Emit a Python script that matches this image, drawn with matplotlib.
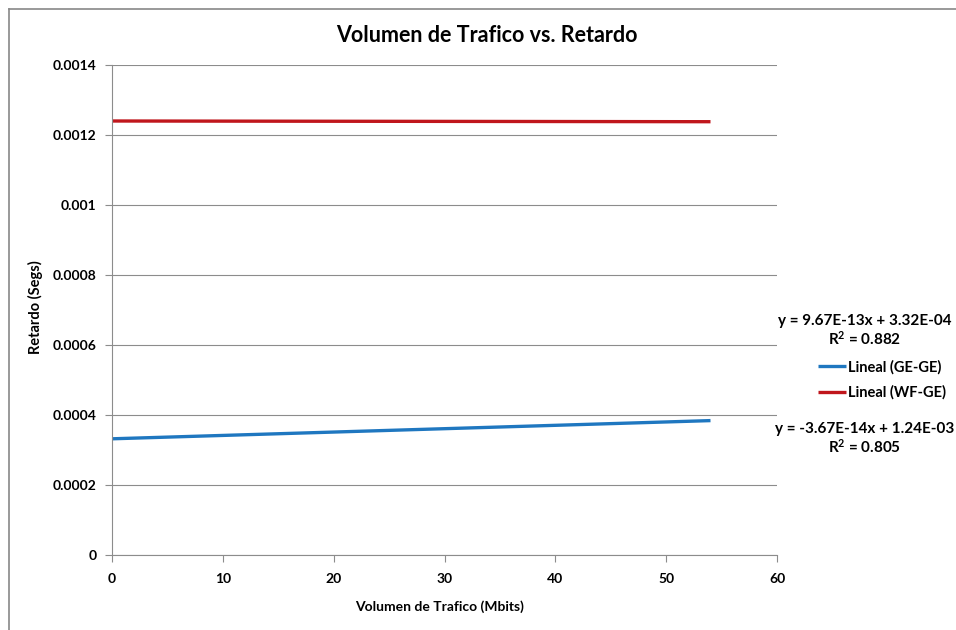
import matplotlib
matplotlib.use("Agg")
import matplotlib.pyplot as plt
from matplotlib.lines import Line2D

# trend lines (GE-GE / WF-GE)
x_mbits = [0, 54]
ge_ge = [0.000332, 0.000384]
wf_ge = [0.00124, 0.001238]

y_ticks = [0, 0.0002, 0.0004, 0.0006, 0.0008, 0.001, 0.0012, 0.0014]
y_labels = ["0", "0.0002", "0.0004", "0.0006", "0.0008", "0.001", "0.0012", "0.0014"]
x_ticks = [0, 10, 20, 30, 40, 50, 60]

eq_ge = "y = 9.67E-13x + 3.32E-04\nR$^2$ = 0.882"
eq_wf = "y = -3.67E-14x + 1.24E-03\nR$^2$ = 0.805"

plt.rcParams["font.family"] = ["Lato", "DejaVu Sans"]
plt.rcParams["font.weight"] = "bold"
plt.rcParams["mathtext.default"] = "regular"

fig = plt.figure(figsize=(9.56, 6.30), dpi=100)
ax = fig.add_axes([112/956, 1-555/630, 665/956, 490/630])

grid_c = "#8c8c8c"
ax.plot(x_mbits, ge_ge, color="#1f77c0", linewidth=2.4, label="Lineal (GE-GE)", solid_capstyle="butt")
ax.plot(x_mbits, wf_ge, color="#c0161c", linewidth=2.4, label="Lineal (WF-GE)", solid_capstyle="butt")

ax.set_xlim(0, 60)
ax.set_ylim(0, 0.0014)
ax.set_yticks(y_ticks)
ax.set_yticklabels(y_labels)
ax.set_xticks(x_ticks)
ax.grid(True, axis="y", color=grid_c, linewidth=0.8)
ax.set_axisbelow(True)
for s in ["top", "right"]:
    ax.spines[s].set_visible(False)
for s in ["left", "bottom"]:
    ax.spines[s].set_color(grid_c)
    ax.spines[s].set_linewidth(0.8)
ax.tick_params(axis="both", direction="out", length=5, color=grid_c, labelsize=10, width=0.8)
ax.tick_params(axis="x", pad=8)
ax.tick_params(axis="y", pad=6)
for lab in ax.get_xticklabels() + ax.get_yticklabels():
    lab.set_fontweight("bold")

fig.text(487/956, 1-35/630, "Volumen de Trafico vs. Retardo", ha="center", va="center", fontsize=15.5, fontweight="bold")
fig.text(440/956, 1-607/630, "Volumen de Trafico (Mbits)", ha="center", va="center", fontsize=10, fontweight="bold")
fig.text(35/956, 1-307/630, "Retardo (Segs)", ha="center", va="center", rotation=90, fontsize=10.5, fontweight="bold")

# equations and legend on the right
fig.text(865/956, 1-331/630, eq_ge, ha="center", va="center", fontsize=11, fontweight="bold", linespacing=1.15)
fig.text(865/956, 1-439/630, eq_wf, ha="center", va="center", fontsize=11, fontweight="bold", linespacing=1.15)
leg = fig.legend(loc="center left", bbox_to_anchor=(805/956, 1-380/630), frameon=False,
                 fontsize=10.5, handlelength=1.9, handletextpad=0.15, labelspacing=0.75)
for t in leg.get_texts():
    t.set_fontweight("bold")

# chart border (top and left only, rest cropped)
fig.add_artist(Line2D([9/956, 1], [1-9/630, 1-9/630], color="#888888", linewidth=1.2, transform=fig.transFigure))
fig.add_artist(Line2D([9/956, 9/956], [0, 1-9/630], color="#888888", linewidth=1.2, transform=fig.transFigure))

fig.savefig("out.png", dpi=100)
